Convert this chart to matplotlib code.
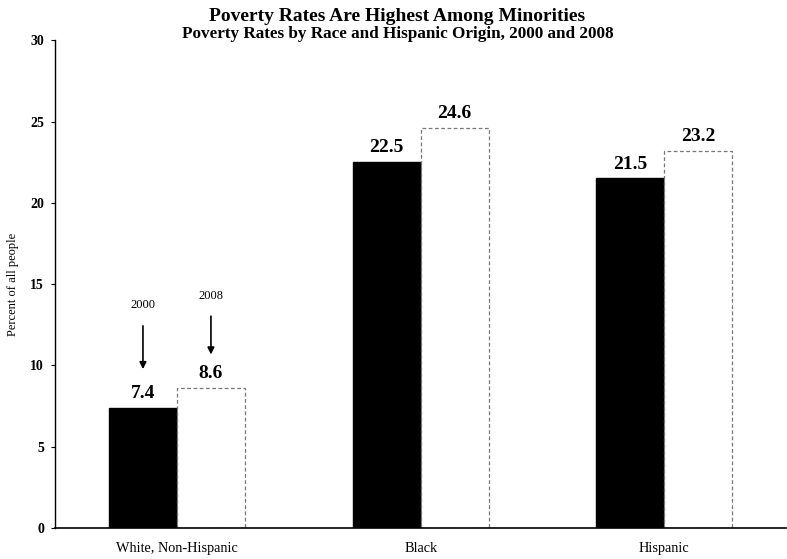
import numpy as np
from matplotlib import pyplot as plt

groups = ["White, Non-Hispanic", "Black", "Hispanic"]
rate_2000 = [7.4, 22.5, 21.5]
rate_2008 = [8.6, 24.6, 23.2]

plt.rcParams['font.family'] = ['Liberation Serif', 'DejaVu Serif']

fig = plt.figure(figsize=(7.87, 5.59), dpi=100)
ax = fig.add_axes([0.07, 0.0555, 0.929, 0.8725])

x = np.arange(len(groups))
w = 0.279
b1 = ax.bar(x - w / 2, rate_2000, w, color="black", edgecolor="black")
b2 = ax.bar(x + w / 2, rate_2008, w, color="white", edgecolor="#777777",
            linestyle=(0, (3, 2)), linewidth=0.9)

for bars, vals in ((b1, rate_2000), (b2, rate_2008)):
    for r, v in zip(bars, vals):
        ax.text(r.get_x() + r.get_width() / 2, v + 0.35, f"{v:.1f}",
                ha="center", va="bottom", fontsize=14, fontweight="bold")

# year callouts on the first group
ax.annotate("", xy=(x[0] - w / 2, 9.6), xytext=(x[0] - w / 2, 12.6),
            arrowprops=dict(arrowstyle="-|>", color="black", lw=1.2, mutation_scale=10))
ax.text(x[0] - w / 2, 13.7, "2000", ha="center", va="center", fontsize=9)
ax.annotate("", xy=(x[0] + w / 2, 10.5), xytext=(x[0] + w / 2, 13.2),
            arrowprops=dict(arrowstyle="-|>", color="black", lw=1.2, mutation_scale=10))
ax.text(x[0] + w / 2, 14.26, "2008", ha="center", va="center", fontsize=9)

ax.set_xlim(-0.5, 2.5)
ax.set_ylim(0, 30)
ax.set_yticks(range(0, 31, 5))
ax.set_xticks(x)
ax.set_xticklabels(groups, fontsize=10.3)
ax.tick_params(axis="x", length=0, pad=10)
ax.tick_params(axis="y", length=3, labelsize=10, pad=5)
for lab in ax.get_yticklabels():
    lab.set_fontweight("bold")
ax.set_ylabel("Percent of all people", fontsize=9, labelpad=8)

ax.spines["top"].set_visible(False)
ax.spines["right"].set_visible(False)
ax.spines["left"].set_linewidth(1.0)
ax.spines["bottom"].set_linewidth(1.2)

fig.text(0.505, 0.971, "Poverty Rates Are Highest Among Minorities",
         ha="center", va="center", fontsize=14, fontweight="bold")
fig.text(0.505, 0.94, "Poverty Rates by Race and Hispanic Origin, 2000 and 2008",
         ha="center", va="center", fontsize=12.3, fontweight="bold")

fig.savefig("out.png", dpi=100)
